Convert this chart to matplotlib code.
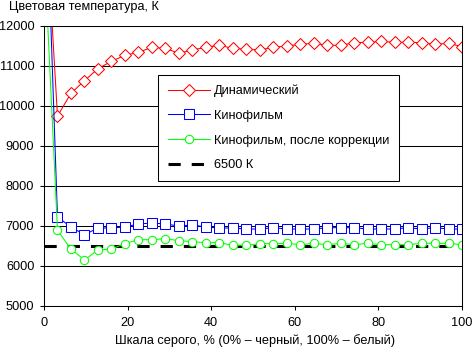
import matplotlib
matplotlib.use("Agg")
import matplotlib.pyplot as plt
import numpy as np

plt.rcParams['font.family'] = ['Liberation Sans', 'DejaVu Sans']

# шкала серого, % (32 точки от 0 до 100)
gray = np.linspace(0, 100, 32)

dynamic = [15500, 9750, 10317, 10633, 10933, 11117, 11267, 11342, 11467, 11442,
           11317, 11400, 11467, 11517, 11442, 11417, 11400, 11467, 11500, 11542,
           11567, 11517, 11517, 11583, 11592, 11617, 11592, 11592, 11583, 11542,
           11567, 11483]
film = [17000, 7225, 6975, 6783, 6950, 6950, 6975, 7050, 7075, 7050,
        7000, 7025, 6975, 6950, 6950, 6925, 6925, 6958, 6925, 6925,
        6925, 6958, 6958, 6958, 6925, 6925, 6925, 6958, 6925, 6958,
        6925, 6925]
film_corr = [14000, 6892, 6425, 6150, 6400, 6425, 6558, 6658, 6658, 6683,
             6633, 6608, 6583, 6583, 6517, 6517, 6558, 6558, 6567, 6533,
             6567, 6533, 6567, 6533, 6567, 6533, 6533, 6533, 6567, 6567,
             6567, 6533]
ref_x = [0, 100]
ref_y = [6500, 6500]

labels = ['Динамический', 'Кинофильм', 'Кинофильм, после коррекции', '6500 К']

fs = 9.2
fig = plt.figure(figsize=(4.72, 3.49), dpi=100)
ax = fig.add_axes([44/472, 1-306/349, 418/472, 280/349])

lw = 0.75
ax.plot(gray, dynamic, color='#ff0000', lw=lw, marker='D', ms=6.2,
        mfc='white', mec='#ff0000', mew=lw, label=labels[0])
ax.plot(gray, film, color='#0000ff', lw=lw, marker='s', ms=7,
        mfc='white', mec='#0000ff', mew=lw, label=labels[1])
ax.plot(gray, film_corr, color='#00ff00', lw=lw, marker='o', ms=6,
        mfc='white', mec='#00ff00', mew=lw, label=labels[2])
ax.plot(ref_x, ref_y, color='black', lw=2.2, dashes=(4, 3.6), label=labels[3],
        zorder=1.5)

ax.set_xlim(0, 100)
ax.set_ylim(5000, 12000)
ax.set_xticks(range(0, 101, 20))
ax.set_yticks(range(5000, 12001, 1000))
ax.yaxis.grid(True, color='black', lw=lw)
ax.set_axisbelow(True)
for s in ax.spines.values():
    s.set_linewidth(lw)
ax.tick_params(direction='out', length=3, width=lw, labelsize=fs, colors='black')
ax.tick_params(axis='y', pad=4)
ax.tick_params(axis='x', pad=5)

fig.text(9/472, 1-7/349, 'Цветовая температура, К', fontsize=fs, va='center', ha='left')
fig.text(255/472, 1-341/349, 'Шкала серого, % (0% – черный, 100% – белый)',
         fontsize=fs, va='center', ha='center')

leg = ax.legend(loc='upper left', bbox_to_anchor=((158-44)/418, (306-75)/280),
                borderaxespad=0, fancybox=False, framealpha=1, edgecolor='black',
                fontsize=fs, handlelength=3.3, labelspacing=1.0,
                borderpad=0.75, handletextpad=0.3)
leg.get_frame().set_linewidth(lw)

fig.savefig('out.png', dpi=100)
